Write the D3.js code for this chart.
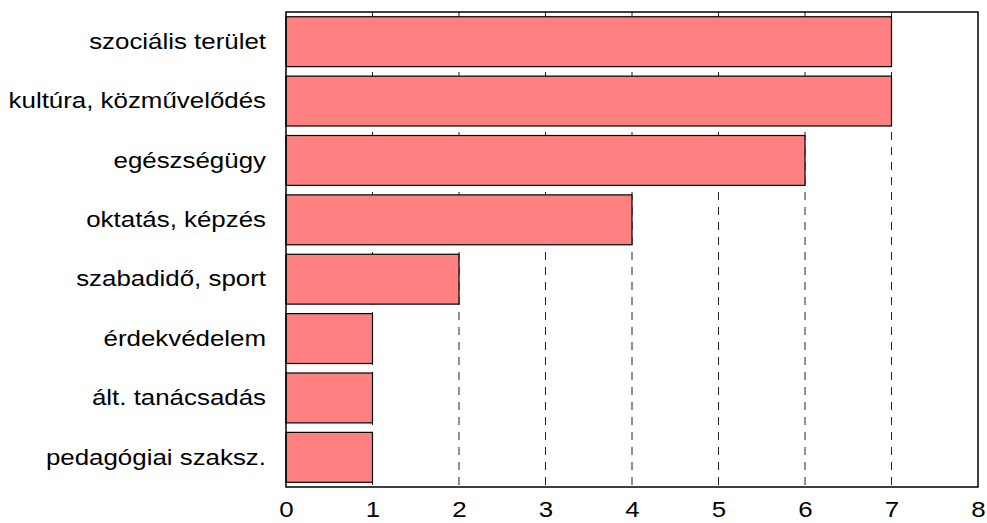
<!DOCTYPE html>
<html lang="hu">
  <head>
    <meta charset="UTF-8" />
    <title>Kategóriák</title>
    <style>
      body { margin: 0; background: #fff; }
      svg text { font-family: "Liberation Sans", Arial, sans-serif; fill: #000; }
      .grid line { stroke: #222; stroke-dasharray: 8,7; stroke-width: 1; }
      .axis path, .axis line { display: none; }
    </style>
  </head>
  <body>
    <div id="chart"></div>
    <script src="https://d3js.org/d3.v7.min.js"></script>
    <script>
      const categories = [
        'szociális terület',
        'kultúra, közművelődés',
        'egészségügy',
        'oktatás, képzés',
        'szabadidő, sport',
        'érdekvédelem',
        'ált. tanácsadás',
        'pedagógiai szaksz.'
      ];
      const values = [7, 7, 6, 4, 2, 1, 1, 1];
      const xTicks = [0, 1, 2, 3, 4, 5, 6, 7, 8];

      const W = 987, H = 523;
      const margin = { top: 12, right: 9, bottom: 36, left: 286 };
      const width = W - margin.left - margin.right;
      const height = H - margin.top - margin.bottom;
      const stretch = 1.15; // text in the original is a bit wider than normal

      const svg = d3.select('#chart').append('svg')
        .attr('width', W).attr('height', H)
        .append('g')
        .attr('transform', `translate(${margin.left}, ${margin.top})`);

      const x = d3.scaleLinear().domain([0, 8]).range([0, width]);
      const y = d3.scaleBand().domain(categories).range([0, height])
        .paddingInner(0.16).paddingOuter(0.08);

      // dashed gridlines
      svg.append('g').attr('class', 'grid')
        .selectAll('line')
        .data(xTicks.slice(1, -1))
        .enter().append('line')
        .attr('x1', d => x(d)).attr('x2', d => x(d))
        .attr('y1', 0).attr('y2', height);

      // bars
      svg.selectAll('.bar')
        .data(values)
        .enter().append('rect')
        .attr('class', 'bar')
        .attr('x', x(0))
        .attr('y', (d, i) => y(categories[i]))
        .attr('width', d => x(d) - x(0))
        .attr('height', y.bandwidth())
        .attr('fill', '#FF8080')
        .attr('stroke', '#000')
        .attr('stroke-width', 1.2);

      // frame
      svg.append('rect')
        .attr('x', 0).attr('y', 0)
        .attr('width', width).attr('height', height)
        .attr('fill', 'none').attr('stroke', '#000').attr('stroke-width', 1.5);

      // x axis
      const xAxis = svg.append('g').attr('class', 'axis')
        .attr('transform', `translate(0, ${height})`)
        .call(d3.axisBottom(x).tickValues(xTicks).tickFormat(d3.format('d')).tickSize(0).tickPadding(14));
      xAxis.attr('font-size', 22.5).attr('font-family', null);

      // y axis
      const yAxis = svg.append('g').attr('class', 'axis')
        .call(d3.axisLeft(y).tickSize(0).tickPadding(20));
      yAxis.attr('font-size', 22.5).attr('font-family', null);

      svg.selectAll('.axis text').each(function () {
        const len = this.getComputedTextLength();
        d3.select(this)
          .attr('textLength', len * stretch)
          .attr('lengthAdjust', 'spacingAndGlyphs');
      });
    </script>
  </body>
</html>
